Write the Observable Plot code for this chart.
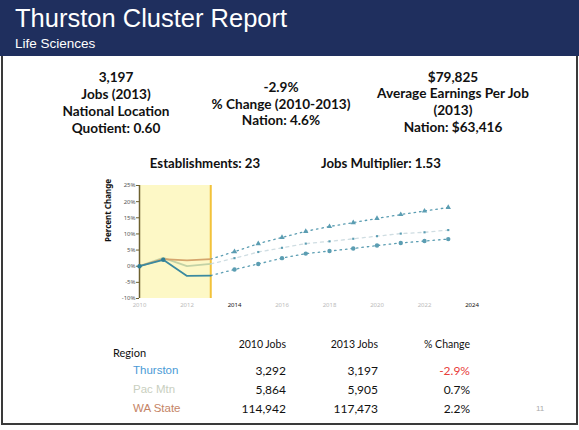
<!DOCTYPE html>
<html>
<head>
<meta charset="utf-8">
<script src="https://cdn.jsdelivr.net/npm/d3@7"></script>
<script src="https://cdn.jsdelivr.net/npm/@observablehq/plot@0.6"></script>
<style>
  html, body { margin: 0; padding: 0; background: #fff; }
  #page { position: relative; width: 579px; height: 430px; overflow: hidden; background: #fff; font-family: "Liberation Sans", Arial, sans-serif; }
  #header { position: absolute; left: 0; top: 0; width: 579px; height: 56px; background: #1f2f5e; }
  #title { position: absolute; left: 15px; top: 4px; color: #fff; font-size: 25.5px; white-space: nowrap; }
  #subtitle { position: absolute; left: 15px; top: 36px; color: #fff; font-size: 13.5px; white-space: nowrap; }
  #frame { position: absolute; left: 1px; top: 56px; width: 573px; height: 367px; border-left: 2px solid #3a3a3a; border-right: 2px solid #3a3a3a; border-bottom: 2px solid #3a3a3a; }
  .stat { position: absolute; width: 240px; text-align: center; font-family: Lato, "Open Sans", sans-serif; font-weight: bold; font-size: 13.6px; color: #111; white-space: nowrap; }
  .info { position: absolute; font-family: Lato, "Open Sans", sans-serif; font-weight: bold; font-size: 13.2px; color: #111; white-space: nowrap; transform: translate(-50%, -50%); }
  #chart { position: absolute; left: 80px; top: 176px; }
  .cell { position: absolute; font-family: Lato, sans-serif; font-size: 12px; color: #111; white-space: nowrap; transform: translate(-100%, -50%); }
  .head { position: absolute; font-family: Lato, sans-serif; font-size: 10.5px; color: #111; white-space: nowrap; transform: translate(-100%, -50%); }
  .reg { position: absolute; font-family: "Liberation Sans", Arial, sans-serif; font-size: 11.5px; white-space: nowrap; transform: translateY(-50%); }
</style>
</head>
<body>
<div id="page">
  <div id="header">
    <div id="title">Thurston Cluster Report</div>
    <div id="subtitle">Life Sciences</div>
  </div>
  <div id="frame"></div>
  <div id="stats"></div>
  <div id="chart"></div>
  <div id="table"></div>
  <div style="position:absolute;left:536px;top:404px;font-size:8px;color:#aaa;">11</div>
</div>
<script>
// ---- Data ----
const statCol1 = ["3,197", "Jobs (2013)", "National Location", "Quotient: 0.60"];
const statCol2 = ["-2.9%", "% Change (2010-2013)", "Nation: 4.6%"];
const statCol3 = ["$79,825", "Average Earnings Per Job", "(2013)", "Nation: $63,416"];
const infoLine = ["Establishments: 23", "Jobs Multiplier: 1.53"];

const histYears = [2010, 2011, 2012, 2013];
const histThurston = [0, 2.0, -3.0, -2.9];
const histPacMtn = [0, 2.6, 0.0, 0.7];
const histWAState = [0, 2.2, 1.8, 2.2];

const projYears = [2013, 2014, 2015, 2016, 2017, 2018, 2019, 2020, 2021, 2022, 2023];
const projThurston = [-2.9, -1.0, 0.7, 2.5, 3.9, 4.7, 5.5, 6.4, 7.2, 7.8, 8.4];
const projPacMtn = [0.7, 2.5, 4.4, 5.7, 7.0, 7.7, 8.5, 9.3, 10.1, 10.5, 11.2];
const projWAState = [2.2, 4.5, 7.0, 8.9, 10.8, 12.3, 13.5, 14.8, 16.0, 17.1, 18.2];

const shadeYears = [2010, 2013];
const yTicks = [-10, -5, 0, 5, 10, 15, 20, 25];
const xTicks = [2010, 2012, 2014, 2016, 2018, 2020, 2022, 2024];
const boldXTicks = [2014, 2024];

const tableHeaders = ["2010 Jobs", "2013 Jobs", "% Change"];
const regions = ["Thurston", "Pac Mtn", "WA State"];
const jobs2010 = ["3,292", "5,864", "114,942"];
const jobs2013 = ["3,197", "5,905", "117,473"];
const pctChange = ["-2.9%", "0.7%", "2.2%"];

// ---- Stats ----
const stats = document.getElementById("stats");
function addStat(lines, cx, top, lh) {
  const d = document.createElement("div");
  d.className = "stat";
  d.style.left = (cx - 120) + "px";
  d.style.top = top + "px";
  d.style.lineHeight = lh + "px";
  d.innerHTML = lines.map(s => `<div>${s}</div>`).join("");
  stats.appendChild(d);
}
addStat(statCol1, 116, 68.5, 17);
addStat(statCol2, 281, 79, 16.5);
addStat(statCol3, 453, 68.5, 16.9);
[[205, 163], [381, 163]].forEach((p, i) => {
  const d = document.createElement("div");
  d.className = "info";
  d.style.left = p[0] + "px"; d.style.top = p[1] + "px";
  d.textContent = infoLine[i];
  stats.appendChild(d);
});

// ---- Chart ----
const mk = (years, vals, series) => years.map((y, i) => ({year: y, value: vals[i], series}));
const hist = [
  ...mk(histYears, histPacMtn, "Pac Mtn"),
  ...mk(histYears, histWAState, "WA State"),
  ...mk(histYears, histThurston, "Thurston")
];
const pT = mk(projYears, projThurston, "Thurston");
const pP = mk(projYears, projPacMtn, "Pac Mtn");
const pW = mk(projYears, projWAState, "WA State");
const histColors = {"Thurston": "#3b8aa0", "Pac Mtn": "#c3d2a6", "WA State": "#d5a56c"};
const teal = "#5b9db2";

const chart = Plot.plot({
  width: 420,
  height: 140,
  marginLeft: 59,
  marginRight: 28.5,
  marginTop: 9,
  marginBottom: 18,
  x: {domain: [2010, 2024]},
  y: {domain: [-10, 25]},
  style: {background: "transparent"},
  marks: [
    Plot.rect([shadeYears], {x1: d => d[0], x2: d => d[1], y1: -10, y2: 25, fill: "#fdf8c6"}),
    Plot.ruleX([shadeYears[1]], {y1: -10, y2: 25, stroke: "#f2c23a", strokeWidth: 2}),
    Plot.ruleX([shadeYears[0]], {y1: -10, y2: 25, stroke: "#6e6130", strokeWidth: 1.5}),
    Plot.axisY({ticks: yTicks, tickFormat: d => d + "%", tickSize: 3, tickPadding: 1, fontSize: 6, fill: "#555", stroke: "#6e6130", label: null}),
    Plot.text(["Percent Change"], {frameAnchor: "left", dx: -31, rotate: -90, fontWeight: "bold", fontSize: 8, fill: "#111"}),
    Plot.axisX({ticks: xTicks, tickFormat: d => String(d), tickSize: 0, tickPadding: 4, fontSize: 6, label: null,
      fill: d => boldXTicks.includes(d) ? "#111" : "#bbb", fontWeight: d => boldXTicks.includes(d) ? "bold" : "normal"}),
    // projections
    Plot.line(pW, {x: "year", y: "value", stroke: teal, strokeWidth: 1.3, strokeDasharray: "1.5,4"}),
    Plot.line(pP, {x: "year", y: "value", stroke: "#cfdde2", strokeWidth: 1.3, strokeDasharray: "3,4"}),
    Plot.line(pT, {x: "year", y: "value", stroke: teal, strokeWidth: 1.3, strokeDasharray: "1.5,4"}),
    Plot.dot(pW.filter(d => d.year > 2013), {x: "year", y: "value", symbol: "triangle", r: 2, fill: teal}),
    Plot.dot(pP.filter(d => d.year > 2013), {x: "year", y: "value", symbol: "square", r: 1.2, fill: teal}),
    Plot.dot(pT.filter(d => d.year > 2013), {x: "year", y: "value", r: 2.2, fill: teal}),
    // history
    Plot.line(hist, {x: "year", y: "value", z: "series", stroke: d => histColors[d.series], strokeWidth: 1.8}),
    Plot.dot(hist.filter(d => d.series === "Thurston" && d.year < 2012), {x: "year", y: "value", r: 2.2, fill: "#2f7f96"})
  ]
});
document.getElementById("chart").appendChild(chart);

// ---- Table ----
const table = document.getElementById("table");
function add(cls, text, x, y, color) {
  const d = document.createElement("div");
  d.className = cls;
  d.style.left = x + "px"; d.style.top = y + "px";
  if (color) d.style.color = color;
  d.textContent = text;
  table.appendChild(d);
  return d;
}
const regionHead = add("reg", "Region", 113, 352, "#111");
regionHead.style.fontFamily = "Lato, sans-serif";
regionHead.style.fontSize = "11px";
const colX = [286, 378, 470];
tableHeaders.forEach((h, i) => add("head", h, colX[i], 344));
const regColors = ["#4a9ad6", "#c9cfc0", "#c58466"];
const rowY = [370, 389, 408];
regions.forEach((r, i) => {
  add("reg", r, 133, rowY[i], regColors[i]);
  add("cell", jobs2010[i], colX[0], rowY[i]);
  add("cell", jobs2013[i], colX[1], rowY[i]);
  add("cell", pctChange[i], colX[2], rowY[i], pctChange[i].startsWith("-") ? "#e8403a" : "#111");
});
</script>
</body>
</html>
